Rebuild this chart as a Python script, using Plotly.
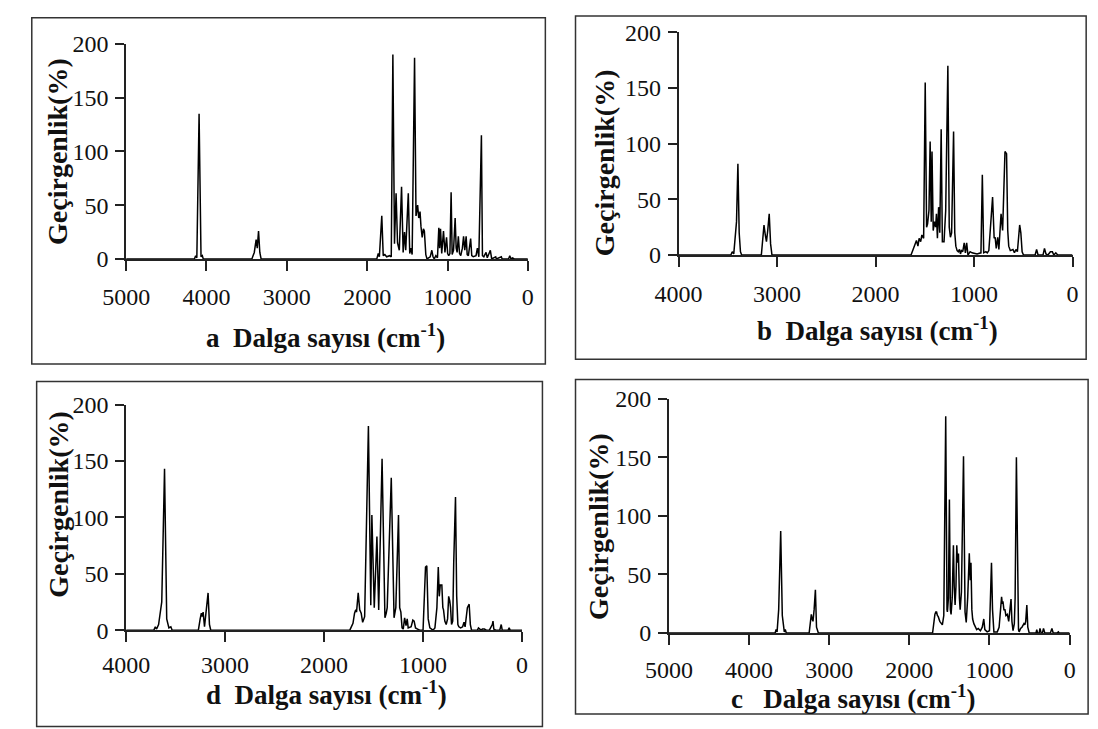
import plotly.graph_objects as go

W, H = 1098, 729

# ---------------- data (wavenumber cm-1, transmittance %) ----------------
a_wn = [5000, 4150, 4135, 4120, 4092, 4068, 4052, 4040,
        3435, 3405, 3382, 3368, 3352, 3336, 3320,
        1880, 1862, 1848, 1818, 1800, 1780, 1758, 1720, 1700, 1680, 1660, 1640, 1622, 1600,
        1572, 1552, 1535, 1520, 1488, 1470, 1455, 1440, 1410, 1392, 1372, 1358, 1342, 1330,
        1315, 1300, 1288, 1270, 1255, 1215, 1195, 1180, 1165, 1145, 1125, 1108, 1098, 1087,
        1072, 1050, 1032, 1012, 998, 985, 970, 955, 942, 925, 905, 892, 880, 865, 850, 835,
        815, 800, 785, 768, 755, 740, 712, 698, 680, 645, 628, 610, 578, 565, 548, 535, 520,
        505, 485, 467, 450, 400, 392, 330, 320, 240, 225, 210, 190, 170, 0]
a_pct = [0, 0, 3, 1, 135, 2, 3, 0,
         0, 6, 18, 10, 26, 6, 0,
         0, 5, 2, 40, 3, 4, 2, 3, 2, 190, 14, 61, 15, 8,
         67, 6, 25, 8, 61, 5, 10, 4, 187, 40, 50, 38, 44, 30,
         20, 28, 26, 4, 0, 2, 8, 2, 0, 3, 1, 29, 10, 28,
         5, 26, 6, 20, 5, 3, 5, 62, 4, 8, 38, 10, 6, 21, 5, 3,
         10, 21, 8, 21, 4, 3, 19, 3, 2, 3, 10, 2, 115, 3, 2, 4, 6,
         1, 4, 8, 0, 2, 0, 2, 0, 0, 3, 0, 1, 0, 0]

b_wn = [4000, 3470, 3455, 3440, 3412, 3398, 3385, 3372, 3360,
        3160, 3140, 3133, 3120, 3108, 3095, 3080, 3066, 3052,
        1640, 1628, 1612, 1598, 1585, 1570, 1558, 1542, 1530, 1512, 1496, 1482, 1472, 1458,
        1446, 1435, 1427, 1415, 1402, 1390, 1382, 1372, 1360, 1348, 1334, 1322, 1305, 1288,
        1266, 1252, 1240, 1228, 1208, 1196, 1185, 1172, 1160, 1148, 1138, 1128, 1115, 1100,
        1088, 1075, 1062, 1040, 1020, 970, 930, 916, 902, 880, 866, 850, 838, 812, 796, 786,
        775, 760, 748, 726, 710, 694, 686, 670, 658, 648, 632, 605, 590, 575, 560, 537, 525,
        512, 498, 380, 365, 350, 300, 285, 270, 250, 225, 205, 190, 170, 150, 0]
b_pct = [0, 0, 3, 1, 30, 82, 20, 3, 0,
         0, 20, 27, 18, 12, 22, 37, 10, 0,
         0, 3, 8, 10, 13, 8, 15, 12, 18, 15, 155, 25, 28, 40,
         102, 30, 93, 22, 30, 25, 37, 15, 43, 20, 113, 12, 12, 40,
         170, 25, 16, 20, 111, 20, 8, 4, 3, 5, 1, 4, 3, 11,
         2, 11, 0, 3, 2, 1, 2, 72, 2, 3, 2, 4, 20, 52, 15, 16,
         6, 16, 5, 37, 22, 88, 93, 91, 22, 8, 4, 5, 2, 5, 3, 27, 20,
         3, 0, 0, 5, 0, 0, 6, 1, 0, 3, 3, 0, 2, 0, 0]

d_wn = [4000, 3720, 3705, 3692, 3672, 3640, 3612, 3590, 3568, 3548, 3535,
        3270, 3252, 3240, 3230, 3222, 3208, 3190, 3172, 3158, 3145,
        1740, 1725, 1708, 1692, 1680, 1672, 1655, 1640, 1625, 1610, 1590, 1552, 1528, 1517,
        1493, 1466, 1448, 1414, 1385, 1372, 1362, 1321, 1293, 1275, 1248, 1236, 1224, 1212,
        1200, 1186, 1172, 1160, 1150, 1120, 1103, 1090, 1076, 1055, 1034, 1000, 990, 975,
        962, 948, 931, 900, 880, 860, 846, 836, 826, 810, 800, 793, 780, 766, 752, 741, 730,
        722, 712, 700, 690, 672, 660, 648, 638, 620, 600, 586, 575, 562, 552, 534, 522, 510,
        450, 440, 414, 400, 380, 360, 330, 300, 293, 285, 265, 225, 210, 200, 140, 130, 120, 0]
d_pct = [0, 0, 3, 1, 5, 25, 143, 10, 2, 3, 0,
         0, 10, 15, 12, 16, 3, 18, 33, 5, 0,
         0, 3, 6, 15, 18, 16, 33, 18, 15, 7, 12, 181, 22, 102,
         20, 83, 18, 152, 11, 15, 20, 135, 11, 20, 102, 20, 16, 2,
         1, 11, 4, 10, 2, 3, 9, 8, 2, 1, 0, 0, 20, 56,
         57, 10, 2, 0, 2, 20, 56, 30, 40, 40, 20, 18, 8, 5, 10, 30, 26,
         20, 5, 8, 60, 118, 30, 5, 3, 2, 3, 7, 3, 15, 20, 23, 5, 0,
         0, 2, 0, 1, 1, 0, 0, 5, 8, 1, 0, 0, 5, 0, 0, 2, 0, 0]

c_wn = [5000, 3675, 3662, 3650, 3630, 3605, 3585, 3560, 3548, 3535,
        3250, 3235, 3223, 3212, 3202, 3188, 3172, 3158, 3135,
        1710, 1700, 1690, 1681, 1670, 1660, 1650, 1639, 1620, 1605, 1588, 1570, 1546, 1530,
        1525, 1512, 1500, 1488, 1479, 1465, 1450, 1440, 1429, 1418, 1408, 1398, 1387, 1375,
        1366, 1350, 1324, 1305, 1290, 1272, 1252, 1240, 1231, 1220, 1210, 1195, 1176, 1160,
        1140, 1113, 1090, 1071, 1058, 1029, 1000, 990, 975, 962, 955, 945, 903, 880, 862, 849,
        840, 832, 820, 807, 795, 777, 760, 745, 731, 720, 706, 690, 680, 664, 650, 638, 630,
        612, 595, 580, 570, 559, 548, 534, 522, 504, 420, 410, 400, 380, 370, 355, 340, 326,
        310, 240, 221, 205, 160, 140, 130, 0]
c_pct = [0, 0, 3, 1, 20, 87, 15, 1, 3, 0,
         0, 12, 16, 12, 10, 20, 37, 5, 0,
         0, 5, 14, 16, 18, 18, 15, 14, 10, 9, 7, 15, 185, 20,
         18, 30, 114, 20, 16, 30, 75, 40, 24, 40, 75, 60, 68, 30,
         20, 35, 151, 18, 9, 30, 68, 45, 60, 20, 12, 8, 5, 3,
         4, 2, 5, 12, 3, 1, 2, 20, 60, 20, 3, 1, 1, 5, 20, 31,
         25, 27, 20, 20, 15, 16, 10, 20, 29, 10, 2, 8, 30, 150, 30, 3, 1,
         4, 5, 7, 8, 7, 10, 24, 5, 0, 0, 3, 0, 0, 4, 0, 0, 4,
         0, 0, 4, 0, 0, 1, 0, 0]

x_ticks_5k = [5000, 4000, 3000, 2000, 1000, 0]
x_ticks_4k = [4000, 3000, 2000, 1000, 0]
y_ticks = [0, 50, 100, 150, 200]

panel_letters = ["a", "b", "d", "c"]
x_title_text = "Dalga sayısı (cm<sup>-1</sup>)"
y_title_text = "Geçirgenlik(%)"

# ---------------- layout helpers (pixel -> paper) ----------------
def px(x):
    return x / W

def py(y):
    return 1 - y / H

FONT = "Liberation Serif, Times New Roman, serif"
INK = "#111111"

# suffix, data, x ticks, plot box in pixels (x0, x1, y of 200, y of 0), x label standoff
panels = [
    ("", a_wn, a_pct, x_ticks_5k, (105, 518, 32, 255), 6),
    ("2", b_wn, b_pct, x_ticks_4k, (673, 1078, 20, 251), 6),
    ("3", d_wn, d_pct, x_ticks_4k, (105, 512, 406, 640), 2),
    ("4", c_wn, c_pct, x_ticks_5k, (663, 1075, 400, 643), 4),
]

fig = go.Figure()
layout = dict(
    width=W, height=H, margin=dict(l=0, r=0, t=0, b=0),
    paper_bgcolor="white", plot_bgcolor="white", showlegend=False,
    font=dict(family=FONT, color=INK),
)

for suf, xs, ys, xt, (x0, x1, yt, yb), stand in panels:
    fig.add_trace(go.Scatter(
        x=xs, y=ys, mode="lines",
        line=dict(color="black", width=1.5),
        xaxis="x" + suf, yaxis="y" + suf, hoverinfo="skip",
    ))
    layout["xaxis" + suf] = dict(
        domain=[px(x0), px(x1)], range=[xt[0], 0], anchor="y" + suf,
        tickmode="array", tickvals=xt, ticktext=[str(v) for v in xt],
        ticks="outside", ticklen=10, tickwidth=1.5, tickcolor="#222",
        showline=True, linecolor="#222", linewidth=1.5,
        showgrid=False, zeroline=False,
        tickfont=dict(family=FONT, size=24, color=INK),
        ticklabelstandoff=stand,
    )
    layout["yaxis" + suf] = dict(
        domain=[py(yb), py(yt)], range=[0, 200], anchor="x" + suf,
        tickmode="array", tickvals=y_ticks, ticktext=[str(v) for v in y_ticks],
        ticks="outside", ticklen=9, tickwidth=1.5, tickcolor="#222",
        showline=True, linecolor="#222", linewidth=1.5,
        showgrid=False, zeroline=False,
        tickfont=dict(family=FONT, size=24, color=INK),
        ticklabelstandoff=2,
    )

# panel frames
frames = [(8, 5, 536, 364), (567, 3, 1092, 359), (13, 382, 533, 740), (567, 380, 1094, 727)]
layout["shapes"] = [
    dict(type="rect", xref="paper", yref="paper",
         x0=px(l), x1=px(r), y0=py(b), y1=py(t),
         line=dict(color="#333", width=1.5), fillcolor="rgba(0,0,0,0)")
    for (l, t, r, b) in frames
]

# axis titles
sp = "\u00a0"
xt_pos = [(310, 335, 2), (877, 328, 2), (311, 705, 2), (852, 709, 3)]
yt_pos = [(35, 144), (597, 155), (36, 510), (590, 532)]
ann = []
for letter, (x, y, n), (yx, yy) in zip(panel_letters, xt_pos, yt_pos):
    ann.append(dict(xref="paper", yref="paper", x=px(x), y=py(y),
                    xanchor="center", yanchor="middle", showarrow=False,
                    text="<b>" + letter + sp * n + x_title_text + "</b>",
                    font=dict(family=FONT, size=27, color=INK)))
    ann.append(dict(xref="paper", yref="paper", x=px(yx), y=py(yy),
                    xanchor="center", yanchor="middle", showarrow=False,
                    textangle=-90, text="<b>" + y_title_text + "</b>",
                    font=dict(family=FONT, size=28, color=INK)))
layout["annotations"] = ann

fig.update_layout(**layout)
fig.write_html("out.html")
